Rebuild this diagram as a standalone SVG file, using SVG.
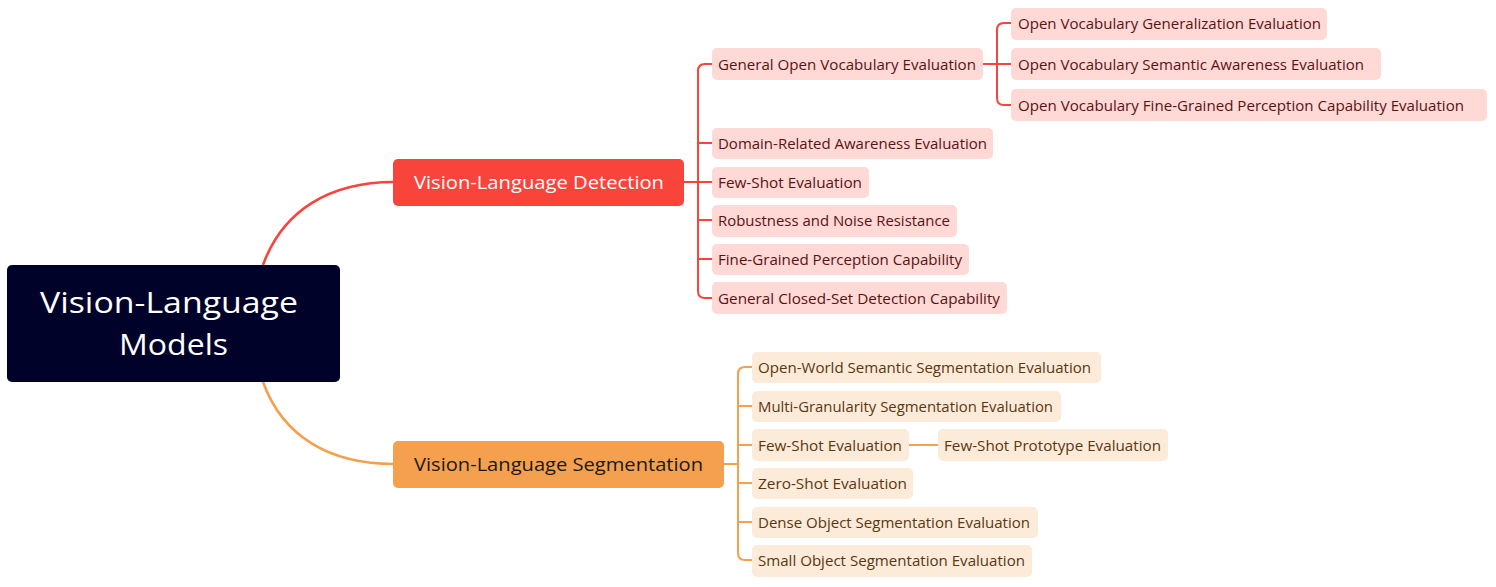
<svg xmlns="http://www.w3.org/2000/svg" width="1496" height="587" viewBox="0 0 1496 587">
<style>
text{font-family:"Open Sans","Liberation Sans",sans-serif;}
.leafR rect{fill:#FED9D6;}
.leafR text{fill:#5A1212;font-size:15px;}
.leafO rect{fill:#FDEBD9;}
.leafO text{fill:#5A3612;font-size:15px;}
.cR{fill:none;stroke:#F9443C;stroke-width:2;}
.cO{fill:none;stroke:#F5A04E;stroke-width:2;}
.main{stroke-width:2.6;}
</style>
<rect width="1496" height="587" fill="#ffffff"/>
<g id="connectors">
<path class="cR main" d="M263,265 C283,210 330,182 394,182"/>
<path class="cO main" d="M263,382 C283,437 330,464 394,464"/>
<path class="cR" d="M684,182 H712 M712,64 H705 Q698,64 698,71 V291 Q698,298 705,298 H712 M698,143 H712 M698,220 H712 M698,259 H712"/>
<path class="cR" d="M983,64 H1011 M1011,23 H1004 Q997,23 997,30 V98 Q997,105 1004,105 H1011"/>
<path class="cO" d="M724,464 H738 M752,367 H745 Q738,367 738,374 V553 Q738,560 745,560 H752 M738,406 H752 M738,445 H752 M738,483 H752 M738,522 H752"/>
<path class="cO" d="M909,445 H938"/>
</g>
<g id="root">
<rect x="7" y="265" width="333" height="117" rx="5" fill="#000229"/>
<text x="40" y="313" font-size="30" fill="#ffffff" textLength="258" lengthAdjust="spacingAndGlyphs">Vision-Language</text>
<text x="119" y="355" font-size="30" fill="#ffffff" textLength="109" lengthAdjust="spacingAndGlyphs">Models</text>
</g>
<g id="detection">
<rect x="393" y="159" width="291" height="47" rx="5" fill="#F9443C"/>
<text x="414" y="189" font-size="19" fill="#ffffff" textLength="250" lengthAdjust="spacingAndGlyphs">Vision-Language Detection</text>
</g>
<g id="segmentation">
<rect x="393" y="441" width="331" height="47" rx="5" fill="#F5A04E"/>
<text x="414" y="471" font-size="19" fill="#1a1a1a" textLength="289" lengthAdjust="spacingAndGlyphs">Vision-Language Segmentation</text>
</g>
<g id="d1" class="leafR"><rect x="712" y="48" width="271" height="32" rx="5"/><text x="718" y="69.5" textLength="258" lengthAdjust="spacingAndGlyphs">General Open Vocabulary Evaluation</text></g>
<g id="d1a" class="leafR"><rect x="1011" y="8" width="316" height="32" rx="5"/><text x="1018" y="29" textLength="303" lengthAdjust="spacingAndGlyphs">Open Vocabulary Generalization Evaluation</text></g>
<g id="d1b" class="leafR"><rect x="1011" y="48" width="370" height="32" rx="5"/><text x="1018" y="69.5" textLength="346" lengthAdjust="spacingAndGlyphs">Open Vocabulary Semantic Awareness Evaluation</text></g>
<g id="d1c" class="leafR"><rect x="1011" y="89" width="476" height="32" rx="5"/><text x="1018" y="110.5" textLength="446" lengthAdjust="spacingAndGlyphs">Open Vocabulary Fine-Grained Perception Capability Evaluation</text></g>
<g id="d2" class="leafR"><rect x="712" y="128" width="281" height="31" rx="5"/><text x="718" y="148.5" textLength="269" lengthAdjust="spacingAndGlyphs">Domain-Related Awareness Evaluation</text></g>
<g id="d3" class="leafR"><rect x="712" y="167" width="157" height="31" rx="5"/><text x="718" y="187.5" textLength="144" lengthAdjust="spacingAndGlyphs">Few-Shot Evaluation</text></g>
<g id="d4" class="leafR"><rect x="712" y="205" width="245" height="32" rx="5"/><text x="718" y="226" textLength="232" lengthAdjust="spacingAndGlyphs">Robustness and Noise Resistance</text></g>
<g id="d5" class="leafR"><rect x="712" y="244" width="257" height="31" rx="5"/><text x="718" y="264.5" textLength="244" lengthAdjust="spacingAndGlyphs">Fine-Grained Perception Capability</text></g>
<g id="d6" class="leafR"><rect x="712" y="282" width="295" height="32" rx="5"/><text x="718" y="303.5" textLength="282" lengthAdjust="spacingAndGlyphs">General Closed-Set Detection Capability</text></g>
<g id="s1" class="leafO"><rect x="752" y="352" width="349" height="31" rx="5"/><text x="758" y="372.5" textLength="333" lengthAdjust="spacingAndGlyphs">Open-World Semantic Segmentation Evaluation</text></g>
<g id="s2" class="leafO"><rect x="752" y="391" width="309" height="31" rx="5"/><text x="758" y="411.5" textLength="295" lengthAdjust="spacingAndGlyphs">Multi-Granularity Segmentation Evaluation</text></g>
<g id="s3" class="leafO"><rect x="752" y="429" width="157" height="32" rx="5"/><text x="758" y="450.5" textLength="144" lengthAdjust="spacingAndGlyphs">Few-Shot Evaluation</text></g>
<g id="s3a" class="leafO"><rect x="938" y="429" width="230" height="32" rx="5"/><text x="944" y="450.5" textLength="217" lengthAdjust="spacingAndGlyphs">Few-Shot Prototype Evaluation</text></g>
<g id="s4" class="leafO"><rect x="752" y="468" width="161" height="31" rx="5"/><text x="758" y="488.5" textLength="149" lengthAdjust="spacingAndGlyphs">Zero-Shot Evaluation</text></g>
<g id="s5" class="leafO"><rect x="752" y="507" width="286" height="31" rx="5"/><text x="758" y="527.5" textLength="272" lengthAdjust="spacingAndGlyphs">Dense Object Segmentation Evaluation</text></g>
<g id="s6" class="leafO"><rect x="752" y="545" width="280" height="32" rx="5"/><text x="758" y="566" textLength="267" lengthAdjust="spacingAndGlyphs">Small Object Segmentation Evaluation</text></g>
</svg>
